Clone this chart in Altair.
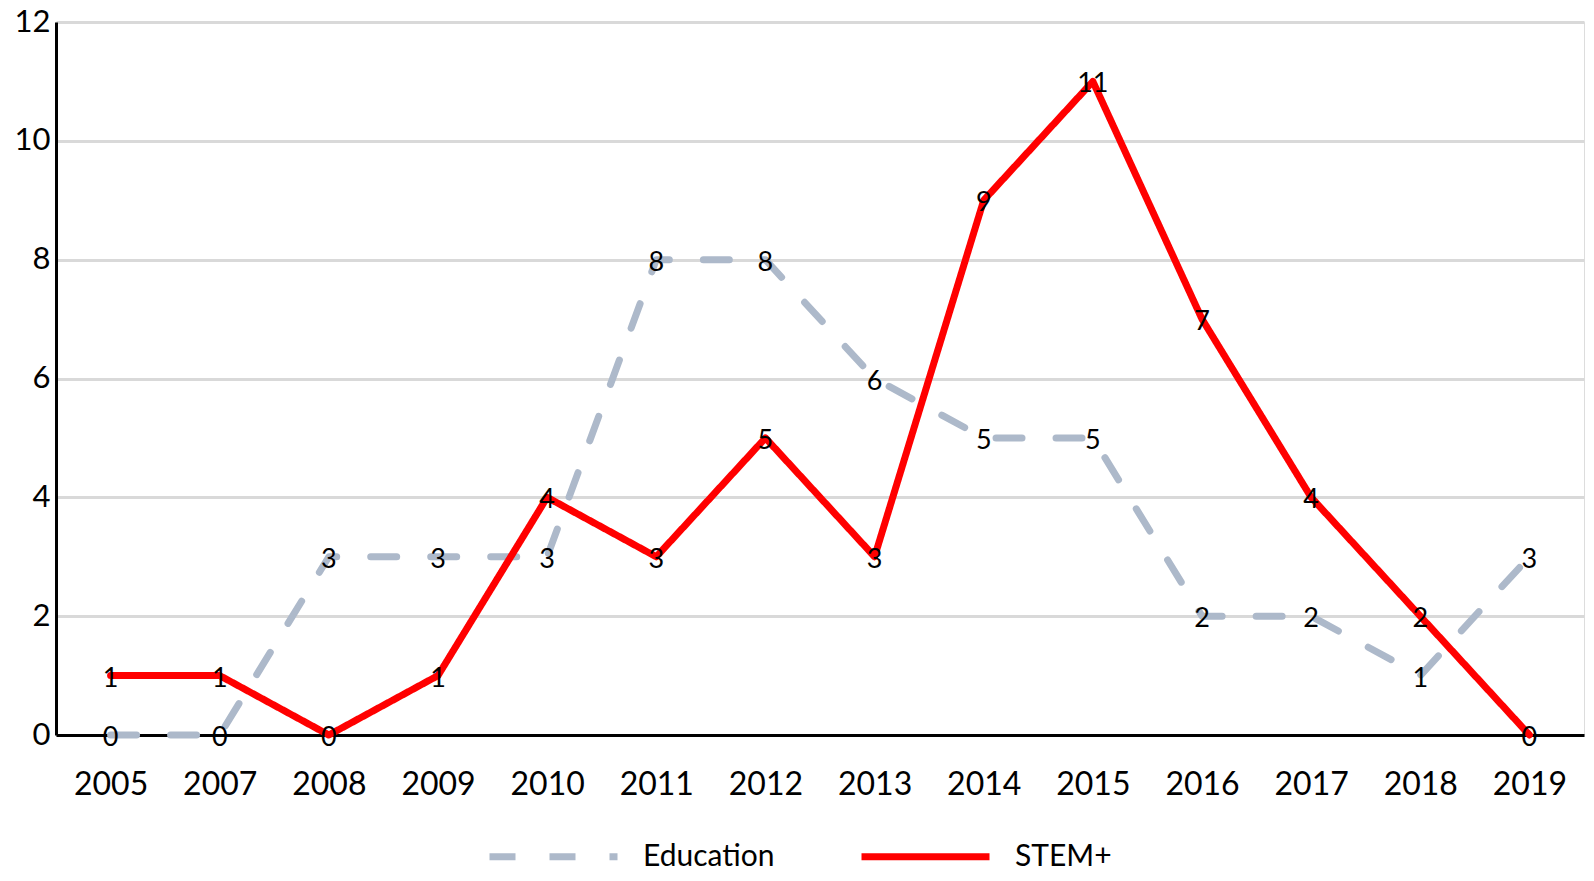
import altair as alt
import pandas as pd

years = ["2005", "2007", "2008", "2009", "2010", "2011", "2012",
         "2013", "2014", "2015", "2016", "2017", "2018", "2019"]
education = [0, 0, 3, 3, 3, 8, 8, 6, 5, 5, 2, 2, 1, 3]
stem = [1, 1, 0, 1, 4, 3, 5, 3, 9, 11, 7, 4, 2, 0]
series = ["Education", "STEM+"]
colors = ["#ADB9CA", "#FF0000"]
dashes = [[26, 34], [1, 0]]
y_ticks = [0, 2, 4, 6, 8, 10, 12]

rows = []
for yr, e, s in zip(years, education, stem):
    rows.append({"year": yr, "series": "Education", "value": e})
    rows.append({"year": yr, "series": "STEM+", "value": s})
df = pd.DataFrame(rows)

FONT = "Lato"

x_enc = alt.X("year:N", sort=years, title=None,
              axis=alt.Axis(labelAngle=0, ticks=False, domain=True,
                            domainColor="black", domainWidth=3, grid=False,
                            labelFont=FONT, labelFontSize=32, labelColor="black",
                            labelPadding=34))
y_enc = alt.Y("value:Q", title=None,
              scale=alt.Scale(domain=[0, 12], nice=False, zero=True),
              axis=alt.Axis(values=y_ticks, format="d", ticks=False, domain=True,
                            domainColor="black", domainWidth=3, grid=True,
                            gridColor="#D9D9D9", gridWidth=3,
                            labelFont=FONT, labelFontSize=31, labelColor="black",
                            labelPadding=6))

legend = alt.Legend(title=None, orient="none", legendX=478, legendY=815,
                    direction="horizontal", symbolType="M-4,0H4",
                    symbolSize=1024, symbolStrokeWidth=7,
                    labelFont=FONT, labelFontSize=30, labelColor="black",
                    labelOffset=70, columnPadding=72, padding=0)

lines = alt.Chart(df).mark_line(strokeWidth=7, strokeCap="round", strokeJoin="round").encode(
    x=x_enc,
    y=y_enc,
    color=alt.Color("series:N", scale=alt.Scale(domain=series, range=colors), legend=legend),
    strokeDash=alt.StrokeDash("series:N", scale=alt.Scale(domain=series, range=dashes), legend=legend),
    detail="series:N",
)

labels = alt.Chart(df).mark_text(font=FONT, fontSize=27, color="black",
                                 align="center", baseline="middle", dy=3).encode(
    x=alt.X("year:N", sort=years),
    y=alt.Y("value:Q"),
    text="value:Q",
)

chart = alt.layer(lines, labels).properties(
    width=1528, height=713,
    padding={"left": 48, "top": 14, "right": 2, "bottom": 138},
    autosize=alt.AutoSizeParams(type="none"),
).configure_view(stroke=None).configure(background="white")

chart.save("out.html", embed_options={"renderer": "svg", "actions": False})
